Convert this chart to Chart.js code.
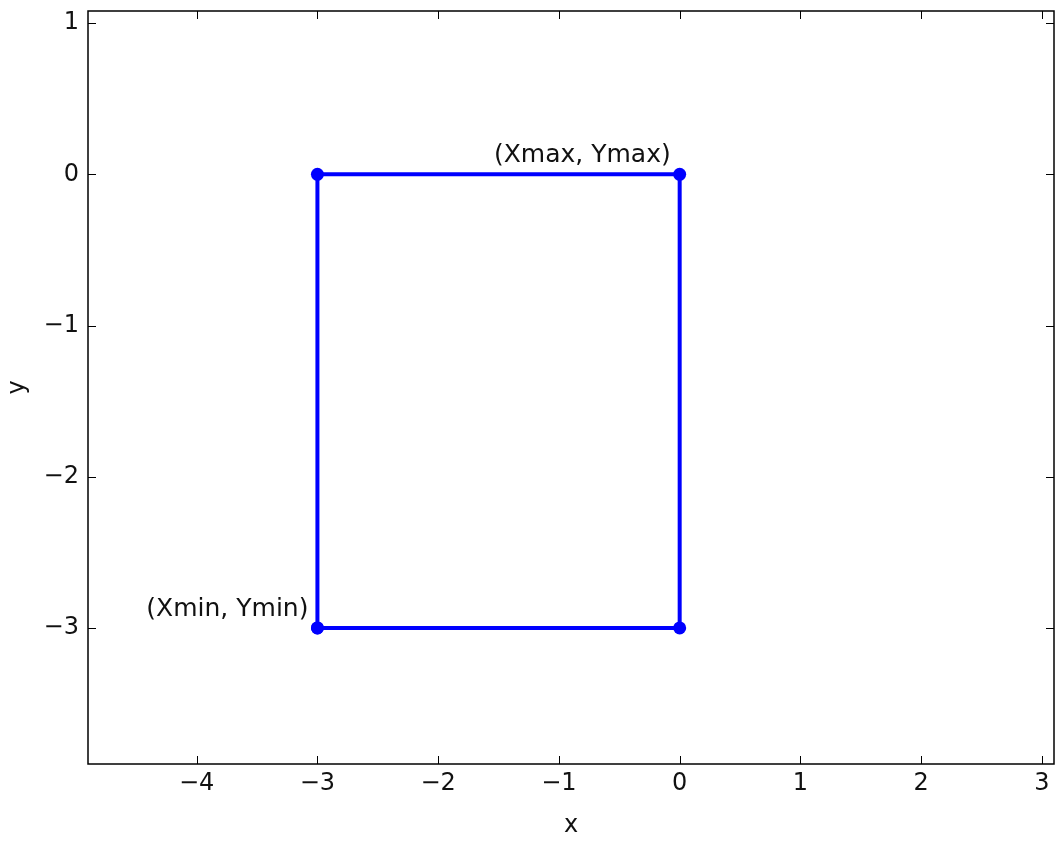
<!DOCTYPE html>
<html>
<head>
<meta charset="utf-8">
<script src="https://cdn.jsdelivr.net/npm/chart.js@4/dist/chart.umd.min.js"></script>
<style>
  html, body { margin: 0; padding: 0; background: #fff; }
  #wrap { width: 1057px; height: 841px; position: relative; }
</style>
</head>
<body>
<div id="wrap"><canvas id="rectChart"></canvas></div>
<script>
// corners of the box, walked round and closed
const xVals = [-3, -3, 0, 0, -3];
const yVals = [-3, 0, 0, -3, -3];
const xTicks = [-4, -3, -2, -1, 0, 1, 2, 3];
const yTicks = [-3, -2, -1, 0, 1];
const labelNames = ['(Xmin, Ymin)', '(Xmax, Ymax)'];
const labelAt = [[-3, -3], [0, 0]];

const FONT = '"DejaVu Sans", sans-serif';
const fmt = v => (v < 0 ? '\u2212' + Math.abs(v) : String(v));

// frame, inward ticks on all sides, axis titles and the two notes
const framePlugin = {
  id: 'frame',
  afterDraw(chart) {
    const { ctx, chartArea: a, scales } = chart;
    const xs = scales.x, ys = scales.y;
    ctx.save();
    ctx.strokeStyle = '#000';
    ctx.lineWidth = 1.5;
    ctx.strokeRect(a.left, a.top, a.right - a.left, a.bottom - a.top);
    ctx.lineWidth = 1;
    const tl = 8;
    ctx.beginPath();
    xTicks.forEach(v => {
      const px = Math.round(xs.getPixelForValue(v)) + 0.5;
      ctx.moveTo(px, a.bottom); ctx.lineTo(px, a.bottom - tl);
      ctx.moveTo(px, a.top); ctx.lineTo(px, a.top + tl);
    });
    yTicks.forEach(v => {
      const py = Math.round(ys.getPixelForValue(v)) + 0.5;
      ctx.moveTo(a.left, py); ctx.lineTo(a.left + tl, py);
      ctx.moveTo(a.right, py); ctx.lineTo(a.right - tl, py);
    });
    ctx.stroke();

    ctx.fillStyle = '#111';
    ctx.font = '24px ' + FONT;
    ctx.textAlign = 'center';
    ctx.textBaseline = 'middle';
    ctx.fillText('x', (a.left + a.right) / 2, 826);
    ctx.save();
    ctx.translate(18, (a.top + a.bottom) / 2);
    ctx.rotate(-Math.PI / 2);
    ctx.fillText('y', 0, 0);
    ctx.restore();

    ctx.font = '25px ' + FONT;
    ctx.textAlign = 'right';
    ctx.textBaseline = 'alphabetic';
    labelNames.forEach((t, i) => {
      const px = xs.getPixelForValue(labelAt[i][0]);
      const py = ys.getPixelForValue(labelAt[i][1]);
      ctx.fillText(t, px - 9, py - 12);
    });
    ctx.restore();
  }
};

new Chart(document.getElementById('rectChart'), {
  type: 'scatter',
  data: {
    datasets: [{
      data: xVals.map((x, i) => ({ x: x, y: yVals[i] })),
      showLine: true,
      borderColor: '#0000ff',
      backgroundColor: '#0000ff',
      borderWidth: 4,
      pointRadius: 6.5,
      pointHoverRadius: 6.5,
      pointBorderWidth: 0,
      tension: 0
    }]
  },
  options: {
    responsive: true,
    maintainAspectRatio: false,
    animation: false,
    layout: { autoPadding: false, padding: { top: 11, right: 3, left: 0, bottom: 0 } },
    plugins: {
      legend: { display: false },
      tooltip: { enabled: false }
    },
    scales: {
      x: {
        type: 'linear',
        min: -4.9,
        max: 3.1,
        grid: { display: false, drawTicks: false },
        border: { display: false },
        afterBuildTicks: s => { s.ticks = xTicks.map(v => ({ value: v })); },
        afterFit: s => { s.height = 77; s.paddingLeft = 0; s.paddingRight = 0; },
        ticks: {
          padding: 5,
          color: '#111',
          font: { family: FONT, size: 24 },
          maxRotation: 0,
          callback: fmt
        }
      },
      y: {
        type: 'linear',
        min: -3.9,
        max: 1.08,
        grid: { display: false, drawTicks: false },
        border: { display: false },
        afterBuildTicks: s => { s.ticks = yTicks.map(v => ({ value: v })); },
        afterFit: s => { s.width = 88; s.paddingTop = 0; s.paddingBottom = 0; },
        ticks: {
          padding: 9,
          color: '#111',
          font: { family: FONT, size: 24 },
          callback: fmt
        }
      }
    }
  },
  plugins: [framePlugin]
});
</script>
</body>
</html>
